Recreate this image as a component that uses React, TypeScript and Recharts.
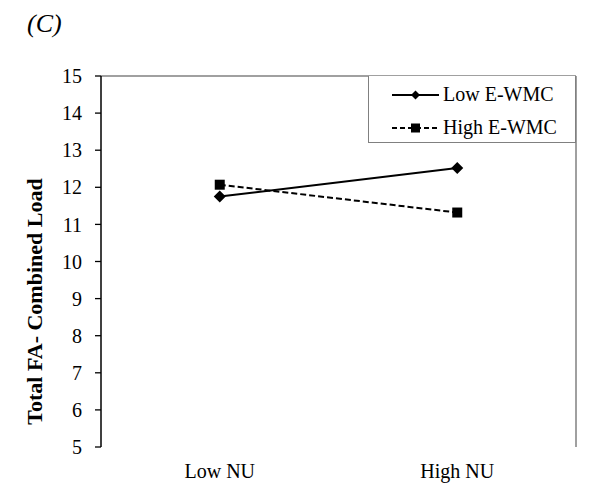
import React from 'react';
import { LineChart, Line, XAxis, YAxis, Legend, ReferenceLine } from 'recharts';

const categories = ['Low NU', 'High NU'];
const lowEwmc = [11.75, 12.52];
const highEwmc = [12.07, 11.32];
const yTicks = [5, 6, 7, 8, 9, 10, 11, 12, 13, 14, 15];

// category i sits in the middle of slot [i, i+1]
const data = categories.map((name, i) => ({
  x: i + 0.5,
  name,
  low: lowEwmc[i],
  high: highEwmc[i],
}));

const font = 'Liberation Serif';
const frameGray = '#808080';

const Diamond = (props: any) => {
  const { cx, cy } = props;
  if (cx == null || cy == null) return null;
  const r = 6;
  return (
    <polygon
      key={props.key}
      points={`${cx},${cy - r} ${cx + r},${cy} ${cx},${cy + r} ${cx - r},${cy}`}
      fill="#000"
    />
  );
};

const Square = (props: any) => {
  const { cx, cy } = props;
  if (cx == null || cy == null) return null;
  const s = 10;
  return <rect key={props.key} x={cx - s / 2} y={cy - s / 2} width={s} height={s} fill="#000" />;
};

const legendItems = [
  { label: 'Low E-WMC', dash: undefined as string | undefined, marker: 'diamond' },
  { label: 'High E-WMC', dash: '5 3', marker: 'square' },
];

const renderLegend = () => (
  <div
    style={{
      width: 208,
      height: 67,
      boxSizing: 'border-box',
      border: `1.3px solid ${frameGray}`,
      borderTop: 'none',
      background: '#fff',
      paddingTop: 2,
      fontFamily: font,
      fontSize: 20,
      color: '#000',
    }}
  >
    {legendItems.map((it) => (
      <div key={it.label} style={{ display: 'flex', alignItems: 'center', height: 33, paddingLeft: 23 }}>
        <svg width={47} height={14} style={{ marginRight: 4 }}>
          <line x1={0} y1={7} x2={47} y2={7} stroke="#000" strokeWidth={1.8} strokeDasharray={it.dash} />
          {it.marker === 'diamond' ? (
            <polygon points="23.5,2.5 28,7 23.5,11.5 19,7" fill="#000" />
          ) : (
            <rect x={19} y={2.5} width={9} height={9} fill="#000" />
          )}
        </svg>
        <span>{it.label}</span>
      </div>
    ))}
  </div>
);

const YTitle = (props: any) => {
  const { viewBox } = props;
  const x = 34;
  const y = viewBox.y + viewBox.height / 2 + 40;
  return (
    <text
      x={x}
      y={y}
      transform={`rotate(-90, ${x}, ${y})`}
      textAnchor="middle"
      dominantBaseline="central"
      style={{ fontFamily: font, fontWeight: 'bold', fontSize: 22 }}
      fill="#000"
    >
      Total FA- Combined Load
    </text>
  );
};

const tickStyle = { fill: '#000', fontSize: 20, fontFamily: font, style: { fontFamily: font } };

export default function App() {
  return (
    <div
      style={{
        position: 'absolute',
        left: 0,
        top: 0,
        width: 601,
        height: 503,
        background: '#fff',
        fontFamily: font,
      }}
    >
      <div
        style={{
          position: 'absolute',
          left: 27,
          top: 11,
          fontFamily: font,
          fontStyle: 'italic',
          fontSize: 26,
          lineHeight: 1,
          zIndex: 2,
        }}
      >
        (C)
      </div>
      <LineChart
        width={601}
        height={503}
        data={data}
        margin={{ top: 76, right: 25, bottom: 0, left: 61 }}
        style={{ fontFamily: font }}
      >
        <XAxis
          xAxisId="frame"
          type="number"
          dataKey="x"
          domain={[0, 2]}
          ticks={[0, 1, 2]}
          tickFormatter={() => ''}
          height={0}
          tickSize={6}
          axisLine={{ stroke: '#000', strokeWidth: 1.5 }}
          tickLine={{ stroke: '#000', strokeWidth: 1.3 }}
        />
        <XAxis
          xAxisId="cat"
          type="number"
          dataKey="x"
          domain={[0, 2]}
          ticks={data.map((d) => d.x)}
          tickFormatter={(v: number) => categories[Math.floor(v)]}
          height={56}
          tickSize={0}
          tickMargin={17}
          axisLine={false}
          tickLine={false}
          tick={tickStyle}
        />
        <YAxis
          type="number"
          domain={[5, 15]}
          ticks={yTicks}
          width={40}
          tickSize={6}
          tickMargin={13}
          axisLine={{ stroke: '#000', strokeWidth: 1.5 }}
          tickLine={{ stroke: '#000', strokeWidth: 1.3 }}
          tick={tickStyle}
          label={<YTitle />}
        />
        <ReferenceLine y={15} xAxisId="frame" stroke={frameGray} strokeWidth={1.5} />
        <ReferenceLine x={2} xAxisId="frame" stroke={frameGray} strokeWidth={1.5} />
        <Line
          xAxisId="cat"
          dataKey="low"
          name="Low E-WMC"
          stroke="#000"
          strokeWidth={2}
          dot={Diamond}
          activeDot={false}
          isAnimationActive={false}
        />
        <Line
          xAxisId="cat"
          dataKey="high"
          name="High E-WMC"
          stroke="#000"
          strokeWidth={2}
          strokeDasharray="6 3"
          dot={Square}
          activeDot={false}
          isAnimationActive={false}
        />
        <Legend
          layout="vertical"
          align="center"
          verticalAlign="middle"
          content={renderLegend}
          wrapperStyle={{ position: 'absolute', left: 368, top: 76, width: 208, height: 67 }}
        />
      </LineChart>
    </div>
  );
}
